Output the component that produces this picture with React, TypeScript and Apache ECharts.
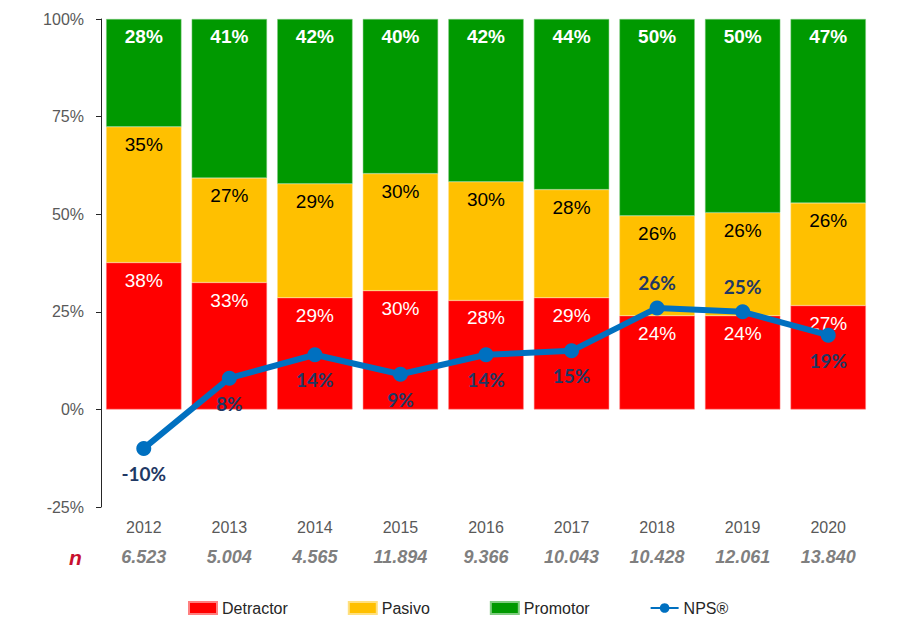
import * as echarts from "echarts";
import { useEffect, useRef } from "react";

const years = ["2012", "2013", "2014", "2015", "2016", "2017", "2018", "2019", "2020"];
const sampleSizes = ["6.523", "5.004", "4.565", "11.894", "9.366", "10.043", "10.428", "12.061", "13.840"];

// stacked shares, labels shown rounded
const detractor = [37.6, 32.5, 28.6, 30.4, 27.9, 28.6, 24.0, 24.0, 26.6];
const pasivo = [34.8, 26.8, 29.2, 30.0, 30.4, 27.7, 25.6, 26.4, 26.3];
const promotor = [27.6, 40.7, 42.2, 39.6, 41.7, 43.7, 50.4, 49.6, 47.1];
const nps = [-10, 8, 14, 9, 14, 15, 26, 25, 19];
const npsLabelPos = ["bottom", "bottom", "bottom", "bottom", "bottom", "bottom", "top", "top", "bottom"];

const pct = (p: { value: number }) => `${Math.round(p.value)}%`;

export default function App() {
  const chartRef = useRef<HTMLDivElement | null>(null);

  useEffect(() => {
    if (!chartRef.current) return;
    const chart = echarts.init(chartRef.current, undefined, { renderer: "svg" });

    const barLabel = (color: string, weight: "bold" | "normal") => ({
      show: true,
      position: "insideTop" as const,
      distance: 8,
      color,
      fontSize: 19,
      fontWeight: weight,
      fontFamily: "Liberation Sans, Arial, sans-serif",
      formatter: pct,
    });

    const option: echarts.EChartsOption = {
      animation: false,
      grid: { left: 101, top: 19, width: 770, height: 488 },
      legend: {
        bottom: 18,
        left: 183,
        itemWidth: 28,
        itemHeight: 12,
        itemGap: 60,
        textStyle: {
          color: "#262626",
          fontSize: 16,
          fontFamily: "Liberation Sans Narrow, Liberation Sans, sans-serif",
        },
        data: [
          { name: "Detractor", icon: "rect" },
          { name: "Pasivo", icon: "rect" },
          { name: "Promotor", icon: "rect" },
          { name: "NPS®" },
        ],
      },
      xAxis: {
        type: "category",
        data: years,
        axisLine: { show: false },
        axisTick: { show: false },
        axisLabel: {
          interval: 0,
          margin: 5,
          lineHeight: 30,
          formatter: (v: string, i: number) => `{y|${v}}\n{n|${sampleSizes[i]}}`,
          rich: {
            y: {
              color: "#595959",
              fontSize: 16,
              fontFamily: "Liberation Sans Narrow, Liberation Sans, sans-serif",
            },
            n: {
              color: "#7f7f7f",
              fontSize: 18,
              fontStyle: "italic",
              fontWeight: "bold",
              fontFamily: "Liberation Sans Narrow, Liberation Sans, sans-serif",
            },
          },
        },
      },
      yAxis: {
        type: "value",
        min: -25,
        max: 100,
        interval: 25,
        splitLine: { show: false },
        axisLine: { show: true, lineStyle: { color: "#262626", width: 1 } },
        axisTick: { show: true, length: 5, lineStyle: { color: "#262626" } },
        axisLabel: {
          formatter: "{value}%",
          color: "#595959",
          fontSize: 16,
          margin: 17,
          fontFamily: "Liberation Sans, Arial, sans-serif",
        },
      },
      graphic: [
        {
          type: "text",
          left: 69,
          top: 547,
          style: {
            text: "n",
            fill: "#C8102E",
            fontSize: 21,
            fontStyle: "italic",
            fontWeight: "bold",
            fontFamily: "Liberation Sans, Arial, sans-serif",
          },
        },
      ],
      series: [
        {
          name: "Detractor",
          type: "bar",
          stack: "total",
          data: detractor,
          barCategoryGap: "12%",
          itemStyle: { color: "#FF0000", borderColor: "#ff8080", borderWidth: 0.5 },
          label: barLabel("#ffffff", "normal"),
        },
        {
          name: "Pasivo",
          type: "bar",
          stack: "total",
          data: pasivo,
          itemStyle: { color: "#FFC000", borderColor: "#ffe080", borderWidth: 0.5 },
          label: barLabel("#000000", "normal"),
        },
        {
          name: "Promotor",
          type: "bar",
          stack: "total",
          data: promotor,
          itemStyle: { color: "#009900", borderColor: "#80cc80", borderWidth: 0.5 },
          label: barLabel("#ffffff", "bold"),
        },
        {
          name: "NPS®",
          type: "line",
          data: nps.map((v, i) => ({
            value: v,
            label: { position: npsLabelPos[i] as "top" | "bottom" },
          })),
          symbol: "circle",
          symbolSize: 15,
          z: 5,
          lineStyle: { color: "#0070C0", width: 6 },
          itemStyle: { color: "#0070C0" },
          label: {
            show: true,
            distance: 8,
            color: "#1F3864",
            fontSize: 19,
            fontWeight: "bold",
            fontFamily: "Lato, Open Sans, sans-serif",
            formatter: pct,
          },
        },
      ],
    };

    chart.setOption(option);
    return () => chart.dispose();
  }, []);

  return (
    <div
      ref={chartRef}
      style={{ position: "fixed", left: 0, top: 0, width: 913, height: 639, background: "#fff" }}
    />
  );
}
